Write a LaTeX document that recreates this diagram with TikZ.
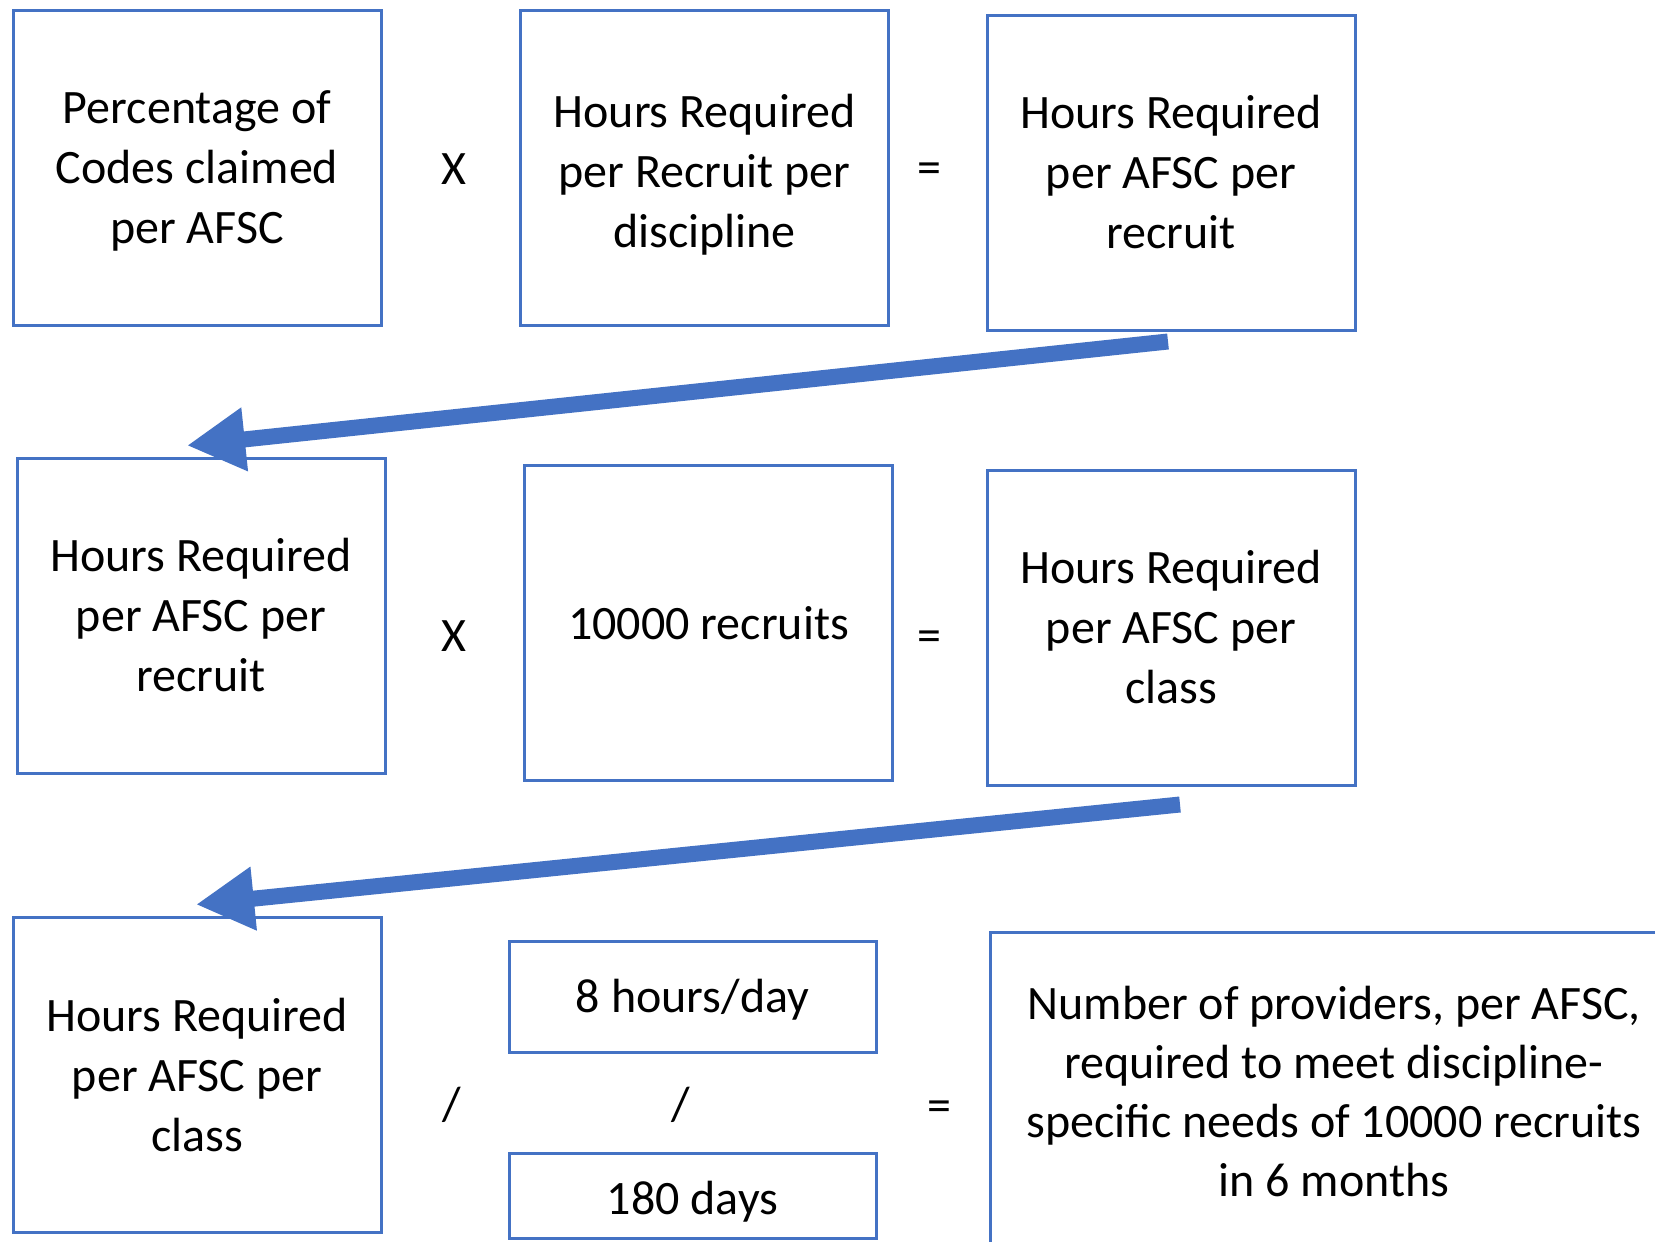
\documentclass[tikz,border=0pt]{standalone}
\usepackage{fontspec}
\setmainfont{Carlito}
\usetikzlibrary{arrows.meta}
\definecolor{boxblue}{HTML}{4472C4}
% set a block of centred lines a little lower without changing its reported size
\newcommand{\dropby}[2]{\raisebox{-#1}[\height][\depth]{\begin{tabular}{@{}c@{}}#2\end{tabular}}}
\begin{document}
\begin{tikzpicture}[x=1pt,y=-1pt,
  txt/.style={font=\fontsize{48}{60}\selectfont},
  box/.style={txt, draw=boxblue, line width=3pt, align=center, inner sep=0pt,
    minimum width=368pt, minimum height=315pt},
  op/.style={txt, inner sep=0pt},
  flow/.style={draw=boxblue, line width=16pt, -{Triangle[length=58pt,width=60pt]}}]
\useasboundingbox (0,0) rectangle (1655,1242);
\fill[white] (0,0) rectangle (1655,1242);

% first row
\node[box] (a1) at (197,168) {\dropby{3pt}{Percentage of\\Codes claimed\\per AFSC}};
\node[box] (a2) at (704.5,168) {\dropby{7pt}{Hours Required\\per Recruit per\\discipline}};
\node[box] (a3) at (1171,172.5) {Hours Required\\per AFSC per\\recruit};
\node[op] (x1) at (454,169) {X};
\node[op] (e1) at (929,173) {=};

% second row
\node[box] (b1) at (201,615.5) {Hours Required\\per AFSC per\\recruit};
\node[box] (b2) at (708.5,623) {10000 recruits};
\node[box] (b3) at (1171,627.5) {Hours Required\\per AFSC per\\class};
\node[op] (x2) at (454,636) {X};
\node[op] (e2) at (929,641) {=};

% third row
\node[box] (c1) at (197,1074.5) {Hours Required\\per AFSC per\\class};
\node[box, minimum width=367pt, minimum height=111pt] (c2) at (692.5,996.5) {\dropby{4pt}{8 hours/day}};
\node[box, minimum width=367pt, minimum height=85pt] (c3) at (692.5,1195.5) {\dropby{7pt}{180 days}};
\node[box, minimum width=688pt, minimum height=318pt, font=\fontsize{48}{59}\selectfont] (c4) at (1334,1091)
  {Number of providers, per AFSC,\\required to meet discipline-\\specific needs of 10000 recruits\\in 6 months};
\node[op] (d1) at (452,1105) {/};
\node[op] (d2) at (681,1105) {/};
\node[op] (e3) at (939,1111) {=};

% carry-over arrows
\coordinate (t1) at ([shift={(-3,10)}]a3.south);
\coordinate (h1) at ([shift={(-14,-11)}]b1.north);
\draw[flow] (t1) -- (h1);
\coordinate (t2) at ([shift={(9,18)}]b3.south);
\coordinate (h2) at ([shift={(-1,-11)}]c1.north);
\draw[flow] (t2) -- (h2);
\end{tikzpicture}
\end{document}
